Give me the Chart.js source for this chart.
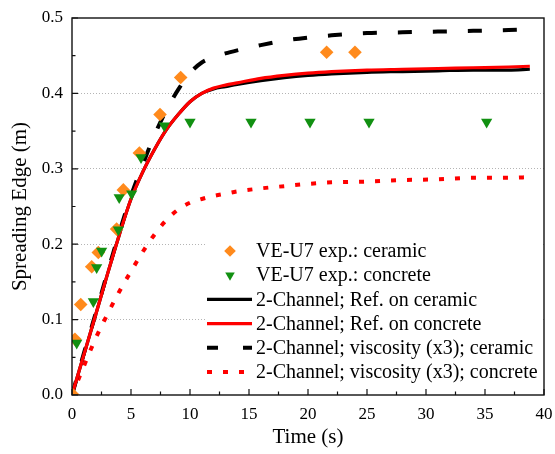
<!DOCTYPE html>
<html>
<head>
<meta charset="utf-8">
<script src="https://cdn.jsdelivr.net/npm/chart.js@4"></script>
<style>
  html, body { margin: 0; padding: 0; background: #fff; }
  #wrap { width: 555px; height: 454px; }
</style>
</head>
<body>
<div id="wrap"><canvas id="spreadChart"></canvas></div>
<script>
// experiments (time in s, spreading edge in m)
const expCeramicTime = [0.1, 0.25, 0.74, 1.67, 2.23, 3.78, 4.35, 5.71, 7.46, 9.21, 21.58, 23.98];
const expCeramic = [0.0, 0.074, 0.12, 0.17, 0.189, 0.22, 0.272, 0.321, 0.372, 0.421, 0.4545, 0.4545];
const expConcreteTime = [0.4, 1.81, 2.09, 2.51, 3.93, 4.0, 5.06, 5.85, 7.82, 10.0, 15.17, 20.17, 25.17, 35.14];
const expConcrete = [0.069, 0.124, 0.169, 0.191, 0.219, 0.262, 0.267, 0.315, 0.357, 0.362, 0.362, 0.362, 0.362, 0.362];

// 2-channel model runs
const modelTime = [0, 1, 2, 3, 4, 5, 6, 7, 8, 9, 10, 11, 12, 13, 14, 16, 18, 20, 22, 25, 28, 31, 34, 37, 38.8];
const refCeramic = [0, 0.053, 0.106, 0.160, 0.212, 0.260, 0.296, 0.326, 0.352, 0.372, 0.389, 0.400, 0.406, 0.409, 0.412, 0.417, 0.421, 0.424, 0.426, 0.428, 0.429, 0.430, 0.431, 0.431, 0.432];
const refConcrete = [0, 0.053, 0.106, 0.160, 0.212, 0.260, 0.296, 0.326, 0.352, 0.372, 0.389, 0.400, 0.407, 0.411, 0.414, 0.420, 0.424, 0.427, 0.429, 0.431, 0.432, 0.433, 0.434, 0.435, 0.436];
const viscCeramic = [0, 0.055, 0.108, 0.162, 0.215, 0.264, 0.306, 0.345, 0.378, 0.405, 0.427, 0.441, 0.448, 0.453, 0.457, 0.464, 0.470, 0.474, 0.477, 0.480, 0.481, 0.482, 0.483, 0.484, 0.485];
const viscConcrete = [0, 0.038, 0.075, 0.107, 0.137, 0.164, 0.190, 0.213, 0.232, 0.246, 0.255, 0.260, 0.264, 0.267, 0.270, 0.274, 0.277, 0.280, 0.282, 0.283, 0.285, 0.286, 0.288, 0.288, 0.289];

const xTicks = [0, 5, 10, 15, 20, 25, 30, 35, 40];
const yTicks = [0, 0.1, 0.2, 0.3, 0.4, 0.5];

const pairs = (xs, ys) => xs.map((x, i) => ({ x: x, y: ys[i] }));
const serif = 'Liberation Serif, Times New Roman, serif';

function lineSet(label, ys, color, dash, order) {
    return {
        label: label,
        data: pairs(modelTime, ys),
        showLine: true,
        borderColor: color,
        backgroundColor: color,
        borderWidth: dash.length ? 4 : 3.2,
        borderDash: dash,
        pointRadius: 0,
        cubicInterpolationMode: 'monotone',
        order: order,
    };
}

// white box behind the legend, legend itself, then frame with inward ticks
const decor = {
    id: 'decor',
    beforeDatasetsDraw(chart) {
        const { ctx, chartArea } = chart;
        ctx.save();
        ctx.fillStyle = '#fff';
        ctx.fillRect(chartArea.left + 133, chartArea.top + 219, chartArea.right - chartArea.left - 134, 150);
        ctx.restore();
    },
    afterDatasetsDraw(chart) {
        const { ctx, chartArea } = chart;
        const xs = chart.scales.x, ys = chart.scales.y;
        ctx.save();

        // legend
        const x0 = chartArea.left + 135;
        const shown = [0, 1, 2, 3, 4, 5];
        shown.forEach((idx, row) => {
            const ds = chart.data.datasets[idx];
            const y = chartArea.top + 233 + row * 24.2;
            if (ds.showLine) {
                ctx.strokeStyle = ds.borderColor;
                ctx.lineWidth = ds.borderWidth;
                ctx.setLineDash(ds.legendDash || ds.borderDash || []);
                ctx.beginPath();
                ctx.moveTo(x0, y);
                ctx.lineTo(x0 + 45, y);
                ctx.stroke();
                ctx.setLineDash([]);
            } else {
                ctx.fillStyle = ds.pointBackgroundColor;
                Chart.helpers.drawPoint(ctx, {
                    pointStyle: ds.pointStyle,
                    radius: ds.pointRadius - 1,
                    rotation: ds.pointRotation || 0,
                    borderWidth: 0,
                }, x0 + 23, y);
            }
            ctx.fillStyle = '#000';
            ctx.font = '20px ' + serif;
            ctx.textBaseline = 'middle';
            ctx.textAlign = 'left';
            ctx.fillText(ds.label, x0 + 49, y + 1);
        });

        // frame
        ctx.strokeStyle = '#111';
        ctx.lineWidth = 1.4;
        ctx.strokeRect(chartArea.left, chartArea.top, chartArea.right - chartArea.left, chartArea.bottom - chartArea.top);

        // inward ticks, major and minor
        ctx.lineWidth = 1.2;
        ctx.beginPath();
        for (let v = 0; v <= 40.001; v += 2.5) {
            const px = xs.getPixelForValue(v);
            const len = Math.abs(v % 5) < 0.001 ? 6 : 3.5;
            ctx.moveTo(px, chartArea.bottom);
            ctx.lineTo(px, chartArea.bottom - len);
        }
        for (let v = 0; v <= 0.5001; v += 0.05) {
            const py = ys.getPixelForValue(v);
            const len = Math.round(v * 100) % 10 === 0 ? 6 : 3.5;
            ctx.moveTo(chartArea.left, py);
            ctx.lineTo(chartArea.left + len, py);
        }
        ctx.stroke();
        ctx.restore();
    }
};

const ctx = document.getElementById('spreadChart').getContext('2d');
const spreadChart = new Chart(ctx, {
    type: 'scatter',
    data: {
        datasets: [
            {
                label: 'VE-U7 exp.: ceramic',
                data: pairs(expCeramicTime, expCeramic),
                pointStyle: 'rectRot',
                pointRadius: 6.8,
                pointBorderWidth: 0,
                pointBackgroundColor: '#FF8A1C',
                borderColor: '#FF8A1C',
                order: 1,
            },
            {
                label: 'VE-U7 exp.: concrete',
                data: pairs(expConcreteTime, expConcrete),
                pointStyle: 'triangle',
                pointRotation: 180,
                pointRadius: 6.5,
                pointBorderWidth: 0,
                pointBackgroundColor: '#119011',
                borderColor: '#119011',
                order: 0,
            },
            lineSet('2-Channel; Ref. on ceramic', refCeramic, '#000', [], 4),
            lineSet('2-Channel; Ref. on concrete', refConcrete, '#FF0000', [], 3),
            Object.assign(lineSet('2-Channel; viscosity (x3); ceramic', viscCeramic, '#000', [14, 21], 5), { legendDash: [11, 25] }),
            lineSet('2-Channel; viscosity (x3); concrete', viscConcrete, '#FF0000', [5, 11], 6),
        ]
    },
    options: {
        responsive: true,
        maintainAspectRatio: false,
        animation: false,
        layout: {
            padding: { left: 0, top: 18, right: 11, bottom: 0 },
        },
        scales: {
            x: {
                type: 'linear',
                min: 0,
                max: 40,
                afterFit: (scale) => { scale.height = 59; scale.paddingRight = 0; scale.paddingLeft = 0; },
                afterBuildTicks: (scale) => { scale.ticks = xTicks.map(v => ({ value: v })); },
                grid: {
                    display: false,
                    drawTicks: false,
                },
                border: { display: false },
                ticks: {
                    color: '#000',
                    padding: 9,
                    maxRotation: 0,
                    font: { family: serif, size: 17 },
                },
                title: {
                    display: true,
                    text: 'Time (s)',
                    color: '#000',
                    padding: { top: 0, bottom: 4 },
                    font: { family: serif, size: 21 },
                },
            },
            y: {
                type: 'linear',
                min: 0,
                max: 0.5,
                afterFit: (scale) => { scale.width = 72; scale.paddingTop = 0; scale.paddingBottom = 0; },
                afterBuildTicks: (scale) => { scale.ticks = yTicks.map(v => ({ value: v })); },
                grid: {
                    drawTicks: false,
                    lineWidth: 1,
                    color: (c) => (c.tick && c.tick.value > 0.01 && c.tick.value < 0.49) ? '#b4b4b4' : 'rgba(0,0,0,0)',
                },
                border: { display: false, dash: [1, 2] },
                ticks: {
                    color: '#000',
                    padding: 9,
                    font: { family: serif, size: 17 },
                    callback: (v) => v.toFixed(1),
                },
                title: {
                    display: true,
                    text: 'Spreading Edge (m)',
                    color: '#000',
                    padding: { top: 8, bottom: 0 },
                    font: { family: serif, size: 21 },
                },
            }
        },
        plugins: {
            legend: { display: false },
            tooltip: { enabled: false },
        },
    },
    plugins: [decor],
});
</script>
</body>
</html>
